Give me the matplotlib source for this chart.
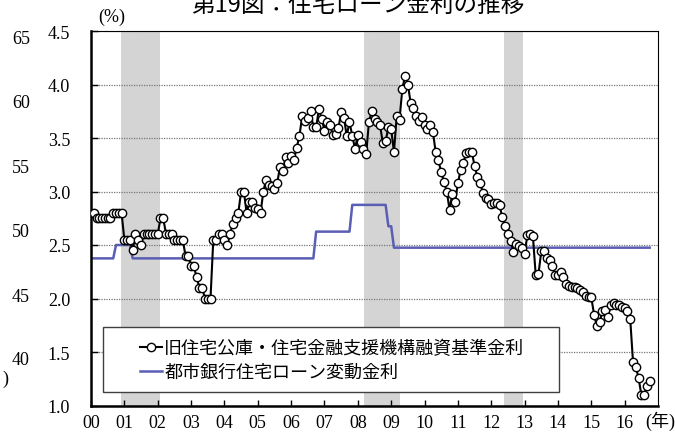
import matplotlib
matplotlib.use('Agg')
import matplotlib.pyplot as plt
from matplotlib.patches import Rectangle
import numpy as np

# monthly rate, Jan 2000 - Oct 2016 (%)
koko_2000 = [2.80, 2.80, 2.75, 2.75, 2.75, 2.75, 2.75, 2.75, 2.80, 2.80, 2.80, 2.80]
koko_2001 = [2.55, 2.55, 2.55, 2.45, 2.60, 2.55, 2.50, 2.60, 2.60, 2.60, 2.60, 2.60]
koko_2002 = [2.60, 2.75, 2.75, 2.60, 2.60, 2.60, 2.55, 2.55, 2.55, 2.55, 2.40, 2.40]
koko_2003 = [2.30, 2.30, 2.20, 2.10, 2.10, 2.00, 2.00, 2.00, 2.55, 2.55, 2.60, 2.60]
koko_2004 = [2.55, 2.50, 2.60, 2.70, 2.75, 2.80, 3.00, 3.00, 2.80, 2.90, 2.90, 2.85]
koko_2005 = [2.84, 2.80, 3.00, 3.11, 3.06, 3.05, 3.02, 3.08, 3.23, 3.19, 3.32, 3.27]
koko_2006 = [3.33, 3.29, 3.41, 3.52, 3.71, 3.66, 3.69, 3.75, 3.60, 3.60, 3.77, 3.68]
koko_2007 = [3.57, 3.65, 3.62, 3.53, 3.54, 3.59, 3.74, 3.69, 3.52, 3.65, 3.52, 3.40]
koko_2008 = [3.53, 3.46, 3.40, 3.35, 3.65, 3.75, 3.68, 3.65, 3.62, 3.45, 3.47, 3.60]
koko_2009 = [3.58, 3.37, 3.71, 3.67, 3.96, 4.08, 4.00, 3.83, 3.78, 3.71, 3.66, 3.70]
koko_2010 = [3.62, 3.58, 3.62, 3.56, 3.37, 3.29, 3.18, 3.09, 3.00, 2.83, 2.98, 2.90]
koko_2011 = [3.08, 3.20, 3.27, 3.36, 3.37, 3.37, 3.24, 3.14, 3.08, 2.99, 2.94, 2.93]
koko_2012 = [2.88, 2.89, 2.89, 2.87, 2.76, 2.68, 2.60, 2.54, 2.43, 2.51, 2.49, 2.47]
koko_2013 = [2.42, 2.59, 2.60, 2.58, 2.22, 2.23, 2.44, 2.44, 2.38, 2.36, 2.30, 2.22]
koko_2014 = [2.22, 2.25, 2.20, 2.14, 2.12, 2.11, 2.11, 2.10, 2.08, 2.06, 2.02, 2.01]
koko_2015 = [2.01, 1.85, 1.74, 1.78, 1.88, 1.89, 1.83, 1.94, 1.96, 1.94, 1.94, 1.92]
koko_2016 = [1.91, 1.88, 1.81, 1.41, 1.36, 1.26, 1.10, 1.10, 1.18, 1.23]

# city bank floating rate: month index where each level starts
bank_start_month = [0, 9, 15, 81, 94, 107, 109]
bank_level = [2.375, 2.5, 2.375, 2.625, 2.875, 2.675, 2.475]
bank_end_month = 201

# recession shading (years since 2000)
shade_spans = [(0.90, 2.07), (8.18, 9.27), (12.38, 12.95)]

year_labels = ['00', '01', '02', '03', '04', '05', '06', '07', '08', '09',
               '10', '11', '12', '13', '14', '15', '16']
yticks = [1.0, 1.5, 2.0, 2.5, 3.0, 3.5, 4.0, 4.5]
stray_labels = ['65', '60', '55', '50', '45', '40']

label_koko = '旧住宅公庫・住宅金融支援機構融資基準金利'
label_bank = '都市銀行住宅ローン変動金利'
title = '第19図：住宅ローン金利の推移'

# -----------------------------------

koko = np.array(koko_2000 + koko_2001 + koko_2002 + koko_2003 + koko_2004 + koko_2005
                + koko_2006 + koko_2007 + koko_2008 + koko_2009 + koko_2010 + koko_2011
                + koko_2012 + koko_2013 + koko_2014 + koko_2015 + koko_2016)
x_koko = np.arange(len(koko)) / 12.0

lengths = np.diff(bank_start_month + [bank_end_month + 1])
bank = np.repeat(bank_level, lengths)
x_bank = np.arange(len(bank)) / 12.0

serif = 'Liberation Serif'
cjk = 'Noto Sans CJK JP'

fig = plt.figure(figsize=(6.75, 4.39), dpi=100)
ax = fig.add_axes([91 / 675, 1 - 406.5 / 439, 567 / 675, 374.5 / 439])

for a, b in shade_spans:
    ax.axvspan(a, b, color='#d4d4d4', lw=0, zorder=0)

line_bank, = ax.plot(x_bank, bank, color='#5a5fb4', lw=1.8, zorder=2)
line_koko, = ax.plot(x_koko, koko, color='black', lw=1.5, marker='o', markersize=6,
                     markerfacecolor='white', markeredgecolor='black',
                     markeredgewidth=1.0, zorder=3)

ax.set_xlim(0, 17)
ax.set_ylim(1.0, 4.5)
ax.set_xticks(range(len(year_labels)))
ax.set_xticklabels(year_labels, family=serif, fontsize=13)
ax.set_yticks(yticks)
ax.set_yticklabels(['%.1f' % v for v in yticks], family=serif, fontsize=13)
ax.tick_params(axis='x', direction='in', length=4, width=1, pad=6)
ax.tick_params(axis='y', direction='in', length=5, width=1, pad=15)
ax.yaxis.grid(True, color='#777777', linestyle=(0, (1, 1)), lw=0.9)
ax.set_axisbelow(True)

for s in ['left', 'bottom']:
    ax.spines[s].set_linewidth(1.8)
for s in ['top', 'right']:
    ax.spines[s].set_linewidth(0.8)

# legend box drawn by hand (wide side padding)
rect = Rectangle(((103 - 91) / 567, (406.5 - 393) / 374.5), (559 - 103) / 567, (393 - 328) / 374.5,
                 transform=ax.transAxes, facecolor='white', edgecolor='#404040', lw=1.0, zorder=4)
ax.add_patch(rect)
leg = ax.legend([line_koko, line_bank], [label_koko, label_bank], loc='center left',
                bbox_to_anchor=((140 - 91) / 567, (406.5 - 361) / 374.5),
                frameon=False, borderpad=0, borderaxespad=0, handlelength=1.2,
                handletextpad=0.15, labelspacing=0.35,
                prop={'family': cjk, 'size': 13})
leg.set_zorder(5)

fig.text(358 / 675, 1 - 5 / 439, title, family=cjk, fontsize=17, ha='center', va='center')
fig.text(112 / 675, 1 - 17 / 439, '(%)', family=serif, fontsize=13, ha='center', va='center')
fig.text(660 / 675, 1 - 421 / 439, '(年)', family=[serif, cjk], fontsize=13, ha='center', va='center')

stray_y = [40, 104, 169, 233, 298, 361]
for lab, yy in zip(stray_labels, stray_y):
    fig.text(21 / 675, 1 - yy / 439, lab, family=serif, fontsize=13, ha='center', va='center')
fig.text(8 / 675, 1 - 379 / 439, ')', family=serif, fontsize=13, ha='right', va='center')

fig.savefig('out.png', dpi=100)
